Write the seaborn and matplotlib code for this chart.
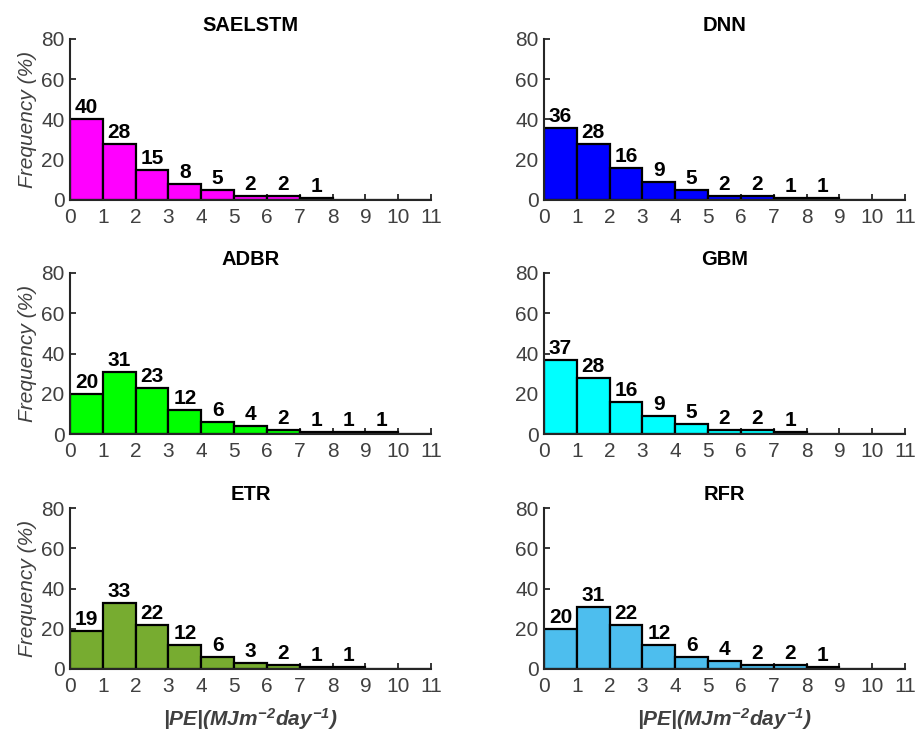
import numpy as np
import pandas as pd
import matplotlib
matplotlib.use("Agg")
import matplotlib.pyplot as plt
import seaborn as sns

# ---- data ----
bin_edges = list(range(0, 12))
models = ["SAELSTM", "DNN", "ADBR", "GBM", "ETR", "RFR"]
saelstm = [40, 28, 15, 8, 5, 2, 2, 1, 0, 0, 0]
dnn = [36, 28, 16, 9, 5, 2, 2, 1, 1, 0, 0]
adbr = [20, 31, 23, 12, 6, 4, 2, 1, 1, 1, 0]
gbm = [37, 28, 16, 9, 5, 2, 2, 1, 0, 0, 0]
etr = [19, 33, 22, 12, 6, 3, 2, 1, 1, 0, 0]
rfr = [20, 31, 22, 12, 6, 4, 2, 2, 1, 0, 0]
colors = ["#FF00FF", "#0000FF", "#00FF00", "#00FFFF", "#77AC30", "#4DBEEE"]
y_ticks = [0, 20, 40, 60, 80]
x_ticks = list(range(0, 12))
series = [saelstm, dnn, adbr, gbm, etr, rfr]

sns.set_theme(style="ticks")
plt.rcParams["font.family"] = ["Liberation Sans", "DejaVu Sans"]
plt.rcParams["mathtext.fontset"] = "custom"
plt.rcParams["mathtext.it"] = "Liberation Sans:italic:bold"
plt.rcParams["mathtext.rm"] = "Liberation Sans:italic:bold"
plt.rcParams["mathtext.bf"] = "Liberation Sans:italic:bold"

fig = plt.figure(figsize=(9.22, 7.38), dpi=100)

lefts = [70 / 922, 544 / 922]
bottoms = [1 - 200 / 738, 1 - 434 / 738, 1 - 669 / 738]
w = 361 / 922
h = 161 / 738
txt_col = "#262626"
fs = 15

for i, (name, vals, col) in enumerate(zip(models, series, colors)):
    r, c = divmod(i, 2)
    ax = fig.add_axes([lefts[c], bottoms[r], w, h])
    centers = [(a + b) / 2 for a, b in zip(bin_edges[:-1], bin_edges[1:])]
    df = pd.DataFrame({"x": centers, "w": vals})
    sns.histplot(data=df, x="x", weights="w", bins=bin_edges, color=col,
                 edgecolor="black", linewidth=1.6, alpha=1, ax=ax)
    ax.set_xlim(0, 11)
    ax.set_ylim(0, 80)
    ax.set_xticks(x_ticks)
    ax.set_yticks(y_ticks)
    for s in ["top", "right"]:
        ax.spines[s].set_visible(False)
    for s in ["left", "bottom"]:
        ax.spines[s].set_color(txt_col)
        ax.spines[s].set_linewidth(1.5)
    ax.tick_params(axis="both", direction="in", length=4, width=1.3,
                   colors=txt_col, labelsize=fs, labelcolor="#404040")
    ax.tick_params(axis="x", pad=6)
    ax.tick_params(axis="y", pad=4)
    ax.set_title(name, fontsize=14.5, fontweight="bold", color="black", pad=6)
    for x, v in zip(centers, vals):
        if v > 0:
            ax.text(x, v + 1.0, f"{v}", ha="center", va="bottom",
                    fontsize=fs, fontweight="bold", color="black")
    if c == 0:
        ax.set_ylabel("Frequency (%)", fontsize=fs, fontstyle="italic",
                      color="#404040", labelpad=3)
    else:
        ax.set_ylabel("")
    if r == 2:
        ax.set_xlabel(r"$|PE|(MJm^{-2}day^{-1})$", fontsize=fs,
                      color="#404040", labelpad=7)
    else:
        ax.set_xlabel("")

fig.savefig("out.png", dpi=100)
